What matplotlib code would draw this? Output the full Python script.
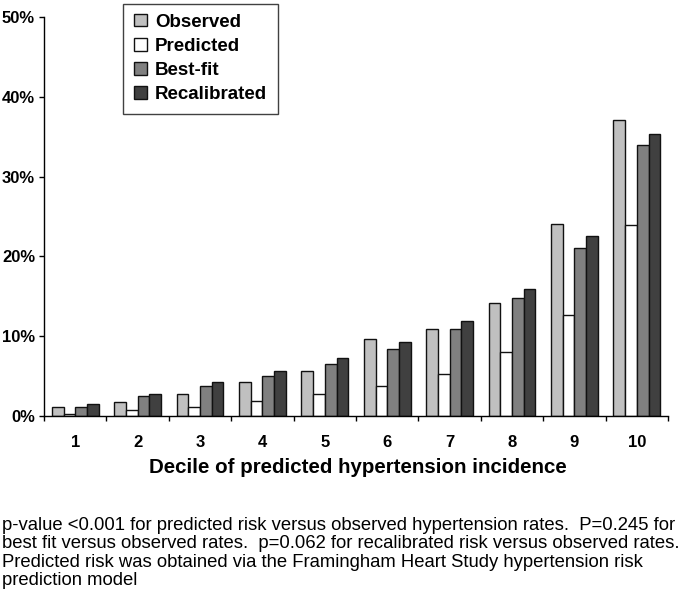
import matplotlib
matplotlib.use("Agg")
import matplotlib.pyplot as plt
import numpy as np
from matplotlib.patches import Patch

plt.rcParams['font.family'] = ['Liberation Sans', 'DejaVu Sans']

deciles = ['1', '2', '3', '4', '5', '6', '7', '8', '9', '10']
observed = [1.15, 1.7, 2.8, 4.3, 5.6, 9.7, 10.9, 14.2, 24.1, 37.1]
predicted = [0.3, 0.7, 1.15, 1.9, 2.7, 3.7, 5.3, 8.0, 12.7, 23.9]
best_fit = [1.15, 2.5, 3.7, 5.0, 6.55, 8.4, 10.9, 14.8, 21.1, 33.9]
recalibrated = [1.55, 2.8, 4.3, 5.6, 7.25, 9.25, 11.95, 15.9, 22.5, 35.4]
series_names = ['Observed', 'Predicted', 'Best-fit', 'Recalibrated']
yticks = [0, 10, 20, 30, 40, 50]
xlabel = 'Decile of predicted hypertension incidence'
footnote_lines = [
    "p-value <0.001 for predicted risk versus observed hypertension rates.  P=0.245 for",
    "best fit versus observed rates.  p=0.062 for recalibrated risk versus observed rates.",
    "Predicted risk was obtained via the Framingham Heart Study hypertension risk",
    "prediction model",
]

colors = ['#c0c0c0', '#ffffff', '#808080', '#404040']

W, H = 688, 600
fig = plt.figure(figsize=(W / 100, H / 100), dpi=100)
ax = fig.add_axes([44 / W, 1 - 416 / H, 624 / W, 399 / H])

x = np.arange(1, len(deciles) + 1)
w = 0.1875
data = [observed, predicted, best_fit, recalibrated]
for i, (vals, c, name) in enumerate(zip(data, colors, series_names)):
    ax.bar(x + (i - 1.5) * w, vals, width=w, color=c, edgecolor='#111111',
           linewidth=1.0, label=name)

ax.set_xlim(0.5, len(deciles) + 0.5)
ax.set_ylim(0, 50)
ax.set_yticks(yticks)
ax.set_yticklabels([f'{v}%' for v in yticks], fontsize=12, fontweight='bold')
ax.set_xticks(x)
ax.set_xticklabels(deciles, fontsize=12, fontweight='bold')
ax.tick_params(axis='x', which='major', length=0, pad=13.5)
ax.set_xticks(np.arange(0.5, len(deciles) + 1), minor=True)
ax.tick_params(axis='x', which='minor', length=3.6, width=1, direction='out')
ax.tick_params(axis='y', length=3.6, width=1, direction='out', pad=2.8)
for s in ['top', 'right']:
    ax.spines[s].set_visible(False)
for s in ['left', 'bottom']:
    ax.spines[s].set_linewidth(1)

fig.text(358 / W, 1 - 473 / H, xlabel, fontsize=14.8, fontweight='bold',
         ha='center', va='baseline')

handles = [Patch(facecolor=c, edgecolor='#111111', linewidth=1.0) for c in colors]
leg = fig.legend(handles, series_names, loc='upper left',
                 bbox_to_anchor=(123 / W, 1 - 3.5 / H), bbox_transform=fig.transFigure,
                 borderaxespad=0, frameon=True, fancybox=False,
                 prop={'size': 13.5, 'weight': 'bold'}, handlelength=0.7, handleheight=0.62,
                 handletextpad=0.45, labelspacing=0.376, borderpad=0.56)
leg.get_frame().set_edgecolor('#111111')
leg.get_frame().set_linewidth(1)

baselines = [530, 548.3, 566.7, 585]
for line, b in zip(footnote_lines, baselines):
    fig.text(2 / W, 1 - b / H, line, fontsize=13.3, va='baseline', ha='left')

fig.savefig('out.png', dpi=100)
